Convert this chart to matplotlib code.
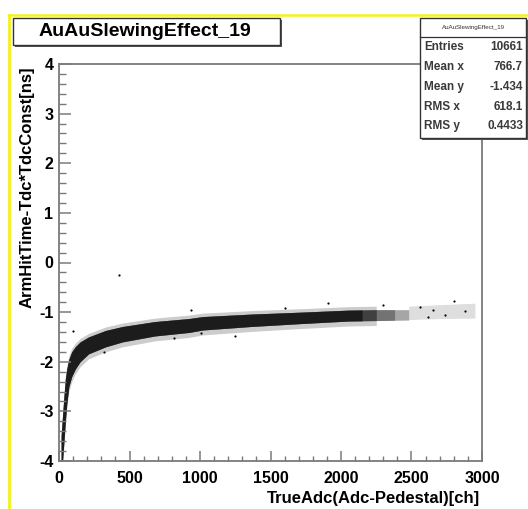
import matplotlib
matplotlib.use("Agg")
import matplotlib.pyplot as plt
from matplotlib.patches import Rectangle
from matplotlib.lines import Line2D
from matplotlib.ticker import MultipleLocator

plt.rcParams['font.family'] = ['Liberation Sans', 'DejaVu Sans']

# ---------------- data ----------------
title = "AuAuSlewingEffect_19"
x_label = "TrueAdc(Adc-Pedestal)[ch]"
y_label = "ArmHitTime-Tdc*TdcConst[ns]"

# scatter band: ADC value, lower and upper edge of the dense core of time values
band_adc = [15, 25, 35, 45, 55, 70, 90, 115, 150, 210, 330, 450, 680, 920,
            1020, 1360, 1720, 2050, 2150, 2250, 2380, 2480]
band_lo = [-4.0, -4.0, -3.6, -3.2, -2.85, -2.5, -2.3, -2.15, -2.0, -1.84,
           -1.70, -1.60, -1.48, -1.41, -1.36, -1.29, -1.23, -1.18, -1.175,
           -1.17, -1.165, -1.16]
band_hi = [-3.5, -3.1, -2.7, -2.35, -2.15, -1.95, -1.8, -1.7, -1.6, -1.50,
           -1.37, -1.29, -1.19, -1.13, -1.09, -1.04, -1.00, -0.96, -0.955,
           -0.95, -0.95, -0.95]
# how far along the band (ADC) each density level reaches
density_end = [2480, 2380, 2250, 2150]
density_alpha = [0.35, 0.3, 0.3, 0.55]
# sparse tail
tail_adc = [2480, 2700, 2950]
tail_lo = [-1.15, -1.13, -1.12]
tail_hi = [-0.88, -0.85, -0.82]
# isolated points
out_adc = [423, 102, 316, 815, 1005, 933, 1907, 1600, 2300, 2800, 2650, 1250,
           2560, 2880, 2740, 2620]
out_t = [-0.25, -1.39, -1.80, -1.53, -1.42, -0.96, -0.82, -0.92, -0.86, -0.78,
         -0.95, -1.48, -0.90, -0.98, -1.05, -1.10]

stats_labels = ["Entries", "Mean x", "Mean y", "RMS x", "RMS y"]
stats_values = ["10661", "766.7", "-1.434", "618.1", "0.4433"]

x_ticks = [0, 500, 1000, 1500, 2000, 2500, 3000]
y_ticks = [-4, -3, -2, -1, 0, 1, 2, 3, 4]

# ---------------- figure ----------------
W, H = 528, 509
fig = plt.figure(figsize=(W / 100, H / 100), dpi=100)
fig.patch.set_facecolor('white')

def fx(px):
    return px / W

def fy(py):
    return 1 - py / H

L, R, T, B = 59, 482, 64, 461
ax = fig.add_axes([fx(L), fy(B), fx(R) - fx(L), fy(T) - fy(B)])
ax.set_xlim(0, 3000)
ax.set_ylim(-4, 4)

frame_col = '#7a7a7a'
for s in ax.spines.values():
    s.set_color(frame_col)
    s.set_linewidth(1.3)

ax.set_xticks(x_ticks)
ax.set_yticks(y_ticks)
ax.set_xticklabels([str(v) for v in x_ticks])
ax.set_yticklabels([str(v) for v in y_ticks])
ax.xaxis.set_minor_locator(MultipleLocator(100))
ax.yaxis.set_minor_locator(MultipleLocator(0.2))
ax.tick_params(axis='x', which='major', direction='in', length=7, width=1.1,
               color=frame_col, pad=7, labelsize=11.5)
ax.tick_params(axis='x', which='minor', direction='in', length=3.5, width=1.0,
               color=frame_col)
ax.tick_params(axis='y', which='major', direction='in', length=8.5, width=1.1,
               color=frame_col, pad=4, labelsize=11.5)
ax.tick_params(axis='y', which='minor', direction='in', length=5, width=1.0,
               color=frame_col)
for lab in ax.get_xticklabels() + ax.get_yticklabels():
    lab.set_fontweight('bold')

# scatter band: soft halo plus stacked core layers
nh = sum(1 for v in band_adc if v <= 2250)
halo_lo = [v - 0.10 for v in band_lo[:nh]]
halo_hi = [v + 0.07 for v in band_hi[:nh]]
ax.fill_between(band_adc[:nh], halo_lo, halo_hi, color='black', alpha=0.2, lw=0)
for end, a in zip(density_end, density_alpha):
    n = sum(1 for v in band_adc if v <= end)
    ax.fill_between(band_adc[:n], band_lo[:n], band_hi[:n], color='black',
                    alpha=a, lw=0)
ax.fill_between(tail_adc, tail_lo, tail_hi, color='black', alpha=0.13, lw=0)
ax.scatter(out_adc, out_t, s=2.5, color='black', lw=0)

# axis titles
fig.text(fx(480), fy(498), x_label, ha='right', va='center',
         fontsize=12, fontweight='bold')
fig.text(fx(27), fy(66), y_label, ha='center', va='top', rotation=90,
         fontsize=12, fontweight='bold')

# yellow canvas border
yel = '#f2f21a'
fig.add_artist(Line2D([fx(9), fx(W)], [fy(15), fy(15)], color=yel, lw=1.8))
fig.add_artist(Line2D([fx(9), fx(9)], [fy(15), fy(H)], color=yel, lw=2.0))

def box(x0, y0, x1, y1, z=5):
    shadow = Rectangle((fx(x0 + 2), fy(y1 + 2)), fx(x1) - fx(x0), fy(y0) - fy(y1),
                       transform=fig.transFigure, facecolor='#555555',
                       edgecolor='none', zorder=z)
    rect = Rectangle((fx(x0), fy(y1)), fx(x1) - fx(x0), fy(y0) - fy(y1),
                     transform=fig.transFigure, facecolor='white',
                     edgecolor='#333333', lw=1.0, zorder=z + 0.1)
    fig.add_artist(shadow)
    fig.add_artist(rect)

# title box
box(13, 18, 280, 45)
fig.text(fx(145), fy(32), title, ha='center', va='center', fontsize=14,
         fontweight='bold', zorder=6)

# stats box
box(420, 18, 526, 138)
fig.add_artist(Line2D([fx(420), fx(526)], [fy(37), fy(37)], color='#333333',
                      lw=0.9, zorder=6))
fig.text(fx(473), fy(28), title, ha='center', va='center', fontsize=4.5,
         color='#333333', zorder=6)
rows_y = [47, 67, 87, 107, 126]
for lab, val, yy in zip(stats_labels, stats_values, rows_y):
    fig.text(fx(424), fy(yy), lab, ha='left', va='center', fontsize=8.5,
             fontweight='bold', color='#3a3a3a', zorder=6)
    fig.text(fx(523), fy(yy), val, ha='right', va='center', fontsize=8.5,
             fontweight='bold', color='#3a3a3a', zorder=6)

fig.savefig("out.png", dpi=100)
